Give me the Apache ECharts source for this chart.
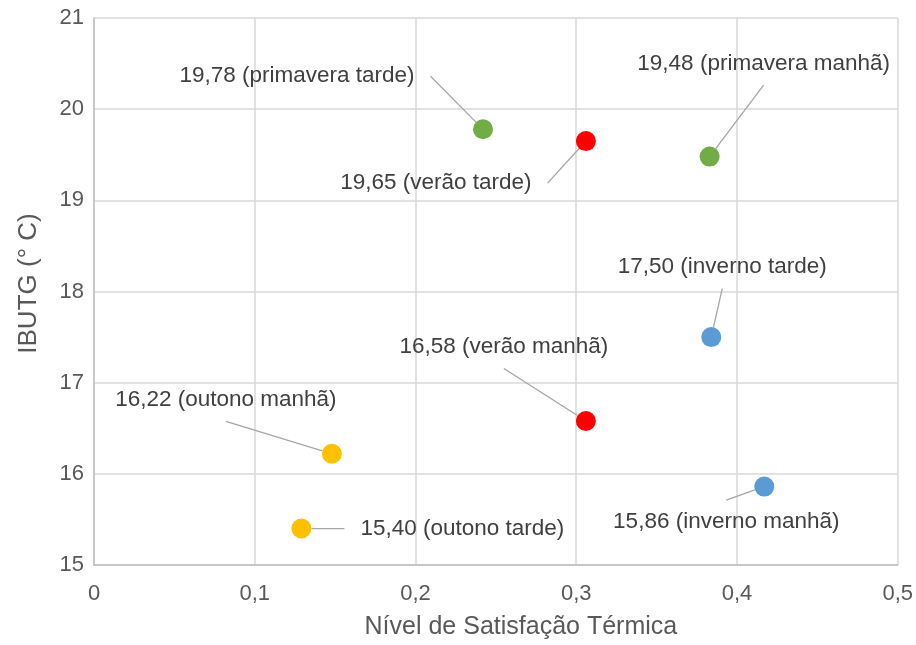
<!DOCTYPE html>
<html><head><meta charset="utf-8">
<script src="https://cdn.jsdelivr.net/npm/echarts@6/dist/echarts.min.js"></script>
<style>html,body{margin:0;padding:0;background:#fff}#c{width:916px;height:645px}</style>
</head><body><div id="c"></div>
<script>
var pointNames = ['primavera tarde','verão tarde','primavera manhã','inverno tarde','verão manhã','outono manhã','outono tarde','inverno manhã'];
var seasons = ['primavera','verão','primavera','inverno','verão','outono','outono','inverno'];
var satisfaction = [0.242, 0.306, 0.383, 0.384, 0.306, 0.148, 0.129, 0.417];
var ibutg = [19.78, 19.65, 19.48, 17.50, 16.58, 16.22, 15.40, 15.86];
var xTicks = [0, 0.1, 0.2, 0.3, 0.4, 0.5];
var yTicks = [15, 16, 17, 18, 19, 20, 21];

var seasonColor = {primavera:'#70AD47', 'verão':'#FF0000', outono:'#FFC000', inverno:'#5B9BD5'};
var labelOffsets = [[-186,-53],[-150,42],[54,-93],[11,-70],[-82,-74],[-106,-54],[161,0],[-38,35]];
var labelPads = [[10,16],[10,16],[10,16],[10,16],[10,60],[10,100],[10,16],[10,16]];

function fmt(v, d){ return (d==null? String(v) : v.toFixed(d)).replace('.', ','); }

var data = satisfaction.map(function(x,i){
  return {value:[x, ibutg[i]], name: pointNames[i],
    itemStyle:{color: seasonColor[seasons[i]]},
    label:{padding: labelPads[i]}};
});

var chart = echarts.init(document.getElementById('c'));
chart.setOption({
  animation:false,
  grid:{left:94, right:18, top:18, bottom:77},
  xAxis:{
    type:'value', min:xTicks[0], max:xTicks[xTicks.length-1], interval:0.1,
    name:'Nível de Satisfação Térmica', nameLocation:'middle', nameGap:50,
    nameTextStyle:{fontFamily:'Liberation Sans', fontSize:25, color:'#595959', padding:[0,0,0,50]},
    axisLine:{show:true, lineStyle:{color:'#bfbfbf', width:1.5}},
    axisTick:{show:false},
    axisLabel:{fontFamily:'Liberation Sans', fontSize:22, color:'#595959', margin:18, formatter:function(v){return fmt(v);}},
    splitLine:{show:true, lineStyle:{color:'#d9d9d9', width:1.5}}
  },
  yAxis:{
    type:'value', min:yTicks[0], max:yTicks[yTicks.length-1], interval:1,
    name:'IBUTG (° C)', nameLocation:'middle', nameGap:52,
    nameTextStyle:{fontFamily:'Liberation Sans', fontSize:26, color:'#595959', padding:[0,0,0,16]},
    axisLine:{show:true, lineStyle:{color:'#bfbfbf', width:1.5}},
    axisTick:{show:false},
    axisLabel:{fontFamily:'Liberation Sans', fontSize:22, color:'#595959', margin:10},
    splitLine:{show:true, lineStyle:{color:'#d9d9d9', width:1.5}}
  },
  series:[{
    type:'scatter', symbol:'circle', symbolSize:20,
    itemStyle:{opacity:1},
    data:data,
    label:{show:true, position:'inside', fontFamily:'Liberation Sans', fontSize:22.5, color:'#404040',
      padding:[10,16], backgroundColor:'rgba(255,255,255,0)',
      formatter:function(p){ return fmt(p.value[1],2) + ' (' + p.name + ')'; }},
    labelLine:{show:true, lineStyle:{color:'#a6a6a6', width:1.3}},
    labelLayout:function(p){ var o = labelOffsets[p.dataIndex]; return {dx:o[0], dy:o[1]}; }
  }]
});
</script></body></html>
